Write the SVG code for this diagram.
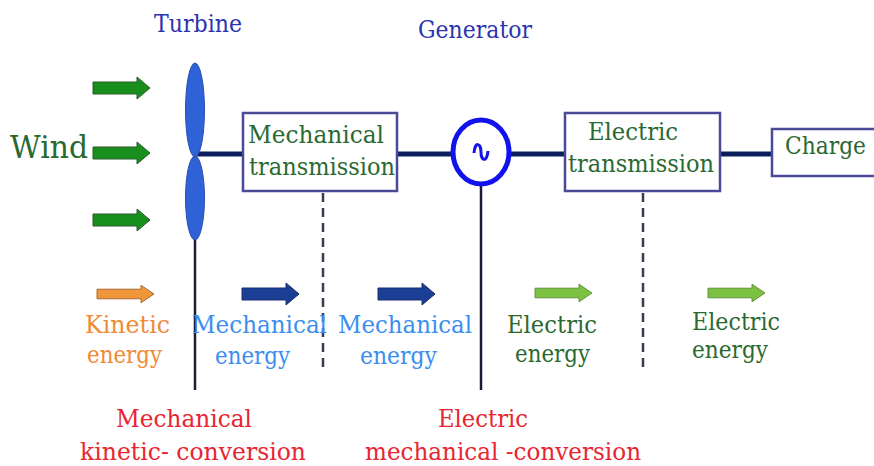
<svg xmlns="http://www.w3.org/2000/svg" width="874" height="466" viewBox="0 0 874 466">
<style>
text{font-family:"DejaVu Serif","Liberation Serif",serif;font-size:25px}
.title{fill:#2b34b0}
.dg{fill:#2a6a32}
.or{fill:#f08a35}
.lb{fill:#3b8ef0}
.red{fill:#e82530}
.box{fill:#fff;stroke:#4a4a98;stroke-width:2.5}
.main{stroke:#0b1e5c;stroke-width:5;fill:none}
.vl{stroke:#1a1a3a;stroke-width:2.5;fill:none}
.dash{stroke:#3a3a55;stroke-width:2.5;stroke-dasharray:9 6;fill:none}
.wa{fill:#188f1c;stroke:#2c5a2c;stroke-width:1}
.oa{fill:#f0963a;stroke:#a0602a;stroke-width:1}
.ba{fill:#1b3f94;stroke:#1b2f70;stroke-width:1}
.ga{fill:#7cc242;stroke:#5a8a35;stroke-width:1}
</style>
<defs>
<path id="arr" d="M0,-6 H44 V-11 L57,0 L44,11 V6 H0 Z"/>
</defs>
<g id="connectors">
<line class="main" x1="195" y1="154" x2="243" y2="154"/>
<line class="main" x1="397" y1="154" x2="452" y2="154"/>
<line class="main" x1="510" y1="154" x2="565" y2="154"/>
<line class="main" x1="720" y1="154" x2="772" y2="154"/>
<line class="vl" x1="195" y1="200" x2="195" y2="390"/>
<line class="vl" x1="481" y1="186" x2="481" y2="390"/>
<line class="dash" x1="323" y1="193" x2="323" y2="372"/>
<line class="dash" x1="643" y1="193" x2="643" y2="372"/>
</g>
<g id="wind">
<text class="dg" x="10" y="158" style="font-size:32px" textLength="78" lengthAdjust="spacingAndGlyphs">Wind</text>
<use href="#arr" class="wa" x="93" y="88"/>
<use href="#arr" class="wa" x="93" y="153"/>
<use href="#arr" class="wa" x="93" y="220"/>
</g>
<g id="turbine">
<text class="title" x="198" y="32" text-anchor="middle" textLength="88" lengthAdjust="spacingAndGlyphs">Turbine</text>
<ellipse cx="195" cy="110" rx="9.5" ry="47" fill="#2f62d6" stroke="#2a4fb0" stroke-width="1"/>
<ellipse cx="195" cy="198" rx="9.5" ry="42" fill="#2f62d6" stroke="#2a4fb0" stroke-width="1"/>
</g>
<g id="mech-trans">
<rect class="box" x="243" y="113" width="154" height="78"/>
<text class="dg" x="248" y="143" textLength="136" lengthAdjust="spacingAndGlyphs">Mechanical</text>
<text class="dg" x="249" y="175" textLength="146" lengthAdjust="spacingAndGlyphs">transmission</text>
</g>
<g id="generator">
<text class="title" x="475" y="38" text-anchor="middle" textLength="114" lengthAdjust="spacingAndGlyphs">Generator</text>
<ellipse cx="481" cy="152" rx="28" ry="32" fill="#fff" stroke="#1212ee" stroke-width="5"/>
<path d="M474,153 C475,141 481,143 481,152 C481,161 487,163 488,151" fill="none" stroke="#1212ee" stroke-width="3"/>
</g>
<g id="elec-trans">
<rect class="box" x="565" y="113" width="155" height="78"/>
<text class="dg" x="588" y="140" textLength="90" lengthAdjust="spacingAndGlyphs">Electric</text>
<text class="dg" x="568" y="172" textLength="146" lengthAdjust="spacingAndGlyphs">transmission</text>
</g>
<g id="charge">
<rect class="box" x="772" y="129" width="110" height="47"/>
<text class="dg" x="785" y="154" textLength="81" lengthAdjust="spacingAndGlyphs">Charge</text>
</g>
<g id="energy">
<use href="#arr" class="oa" x="97" y="294" transform="translate(97 294) scale(1 0.8) translate(-97 -294)"/>
<text class="or" x="85" y="333" textLength="85" lengthAdjust="spacingAndGlyphs">Kinetic</text>
<text class="or" x="87" y="363" textLength="75" lengthAdjust="spacingAndGlyphs">energy</text>
<use href="#arr" class="ba" x="242" y="294"/>
<text class="lb" x="192" y="333" textLength="135" lengthAdjust="spacingAndGlyphs">Mechanical</text>
<text class="lb" x="215" y="364" textLength="75" lengthAdjust="spacingAndGlyphs">energy</text>
<use href="#arr" class="ba" x="378" y="294"/>
<text class="lb" x="338" y="333" textLength="134" lengthAdjust="spacingAndGlyphs">Mechanical</text>
<text class="lb" x="360" y="364" textLength="77" lengthAdjust="spacingAndGlyphs">energy</text>
<use href="#arr" class="ga" x="535" y="293" transform="translate(535 293) scale(1 0.8) translate(-535 -293)"/>
<text class="dg" x="507" y="333" textLength="90" lengthAdjust="spacingAndGlyphs">Electric</text>
<text class="dg" x="515" y="362" textLength="75" lengthAdjust="spacingAndGlyphs">energy</text>
<use href="#arr" class="ga" x="708" y="293" transform="translate(708 293) scale(1 0.8) translate(-708 -293)"/>
<text class="dg" x="692" y="330" textLength="88" lengthAdjust="spacingAndGlyphs">Electric</text>
<text class="dg" x="692" y="358" textLength="76" lengthAdjust="spacingAndGlyphs">energy</text>
</g>
<g id="conversions">
<text class="red" x="116" y="427" textLength="136" lengthAdjust="spacingAndGlyphs">Mechanical</text>
<text class="red" x="80" y="460" textLength="226" lengthAdjust="spacingAndGlyphs">kinetic- conversion</text>
<text class="red" x="438" y="427" textLength="90" lengthAdjust="spacingAndGlyphs">Electric</text>
<text class="red" x="365" y="460" textLength="276" lengthAdjust="spacingAndGlyphs">mechanical -conversion</text>
</g>
</svg>
